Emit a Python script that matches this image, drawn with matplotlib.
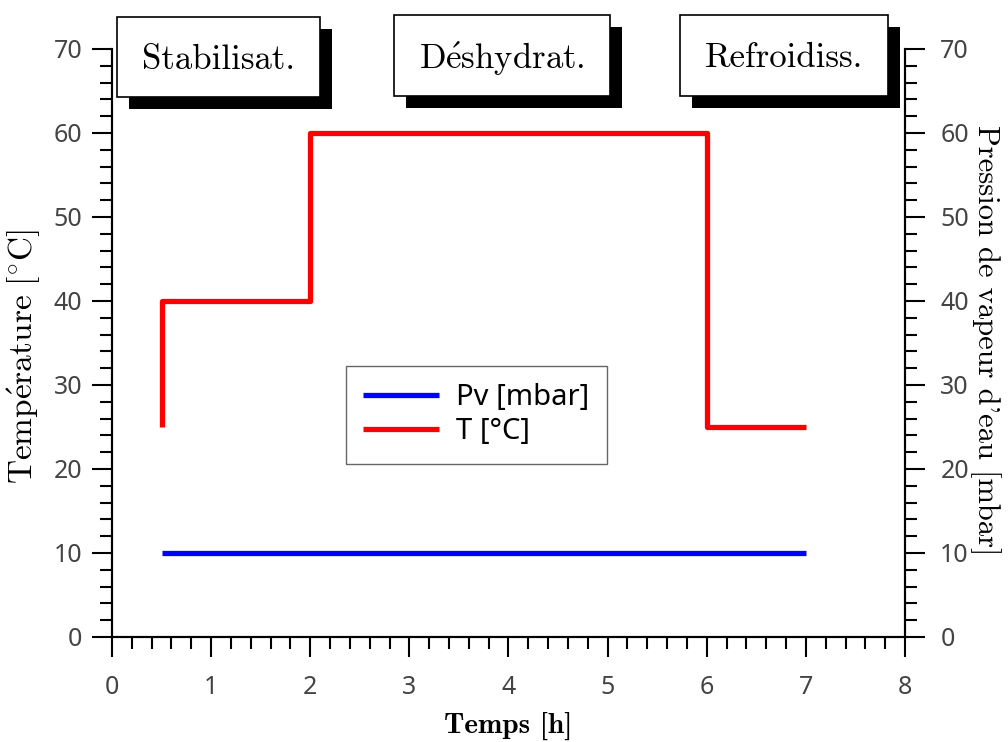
import matplotlib
matplotlib.use('Agg')
import matplotlib.pyplot as plt
from matplotlib.patches import Rectangle
from matplotlib.ticker import MultipleLocator

plt.rcParams['mathtext.fontset'] = 'cm'
plt.rcParams['font.family'] = ['Noto Sans', 'DejaVu Sans']

# data
time_pv = [0.5, 7]
pv = [10, 10]
time_t = [0.5, 0.5, 2, 2, 6, 6, 7]
temp = [25, 40, 40, 60, 60, 25, 25]
phase_labels = ['Stabilisat.', r'$\mathrm{D\acute{e}shydrat.}$', 'Refroidiss.']
series_labels = ['Pv [mbar]', 'T [°C]']

W, H = 1008, 742
fig = plt.figure(figsize=(W / 100, H / 100), dpi=100)
ax = fig.add_axes([112 / W, 1 - 637 / H, 793 / W, 588 / H])

ax.plot(time_pv, pv, color='#0000ff', lw=3.8, label=series_labels[0], solid_capstyle='butt')
ax.plot(time_t, temp, color='#ff0000', lw=3.8, label=series_labels[1], solid_capstyle='butt')

ax.set_xlim(0, 8)
ax.set_ylim(0, 70)
ax.xaxis.set_major_locator(MultipleLocator(1))
ax.xaxis.set_minor_locator(MultipleLocator(0.2))
ax.yaxis.set_major_locator(MultipleLocator(10))
ax.yaxis.set_minor_locator(MultipleLocator(2))

ax2 = ax.twinx()
ax2.set_ylim(0, 70)
ax2.yaxis.set_major_locator(MultipleLocator(10))
ax2.yaxis.set_minor_locator(MultipleLocator(2))

for a in (ax, ax2):
    a.spines['top'].set_visible(False)
    for s in a.spines.values():
        s.set_linewidth(1.5)
    a.tick_params(which='major', direction='out', length=14.4, width=1.5,
                  labelsize=18, labelcolor='#444444')
    a.tick_params(which='minor', direction='out', length=8.5, width=1.5)
ax.tick_params(axis='x', which='major', pad=13)
ax.tick_params(axis='y', which='major', pad=7)
ax2.tick_params(axis='y', which='major', pad=11)

ax.set_xlabel('Temps [h]', family='cmb10', fontsize=21, va='center')
ax.xaxis.set_label_coords(0.5, -0.151)
ax.set_ylabel(r'$\mathrm{Temp\acute{e}rature\ [^{\circ}C]}$', fontsize=24, va='center')
ax.yaxis.set_label_coords(-0.11, 0.476)
ax2.set_ylabel("Pression de vapeur d'eau [mbar]", family='cmr10', fontsize=22,
               rotation=270, va='center')
ax2.yaxis.set_label_coords(1.101, 0.505)

leg = ax.legend(loc='upper left', bbox_to_anchor=(0.295, 0.461), borderaxespad=0,
                fancybox=False, edgecolor='#666666', framealpha=1, fontsize=21,
                handlelength=2.6, handletextpad=0.58, labelspacing=0.17, borderpad=0.6)
leg.get_frame().set_linewidth(1.0)

# phase boxes with drop shadow (pixel layout: left, top, width, height)
boxes = [(117, 17, 203, 80), (394, 15, 216, 81), (680, 15, 208, 81)]
off = 12
for (l, t, w, h), txt in zip(boxes, phase_labels):
    fig.add_artist(Rectangle(((l + off) / W, 1 - (t + h + off) / H), w / W, h / H,
                             transform=fig.transFigure, facecolor='black',
                             edgecolor='none', zorder=5))
    fig.add_artist(Rectangle((l / W, 1 - (t + h) / H), w / W, h / H,
                             transform=fig.transFigure, facecolor='white',
                             edgecolor='black', lw=1.2, zorder=6))
    kw = {} if txt.startswith('$') else {'family': 'cmr10'}
    fig.text((l + w / 2) / W, 1 - (t + h / 2 + 3) / H, txt, ha='center', va='center',
             fontsize=25, zorder=7, **kw)

fig.savefig('out.png', dpi=100)
